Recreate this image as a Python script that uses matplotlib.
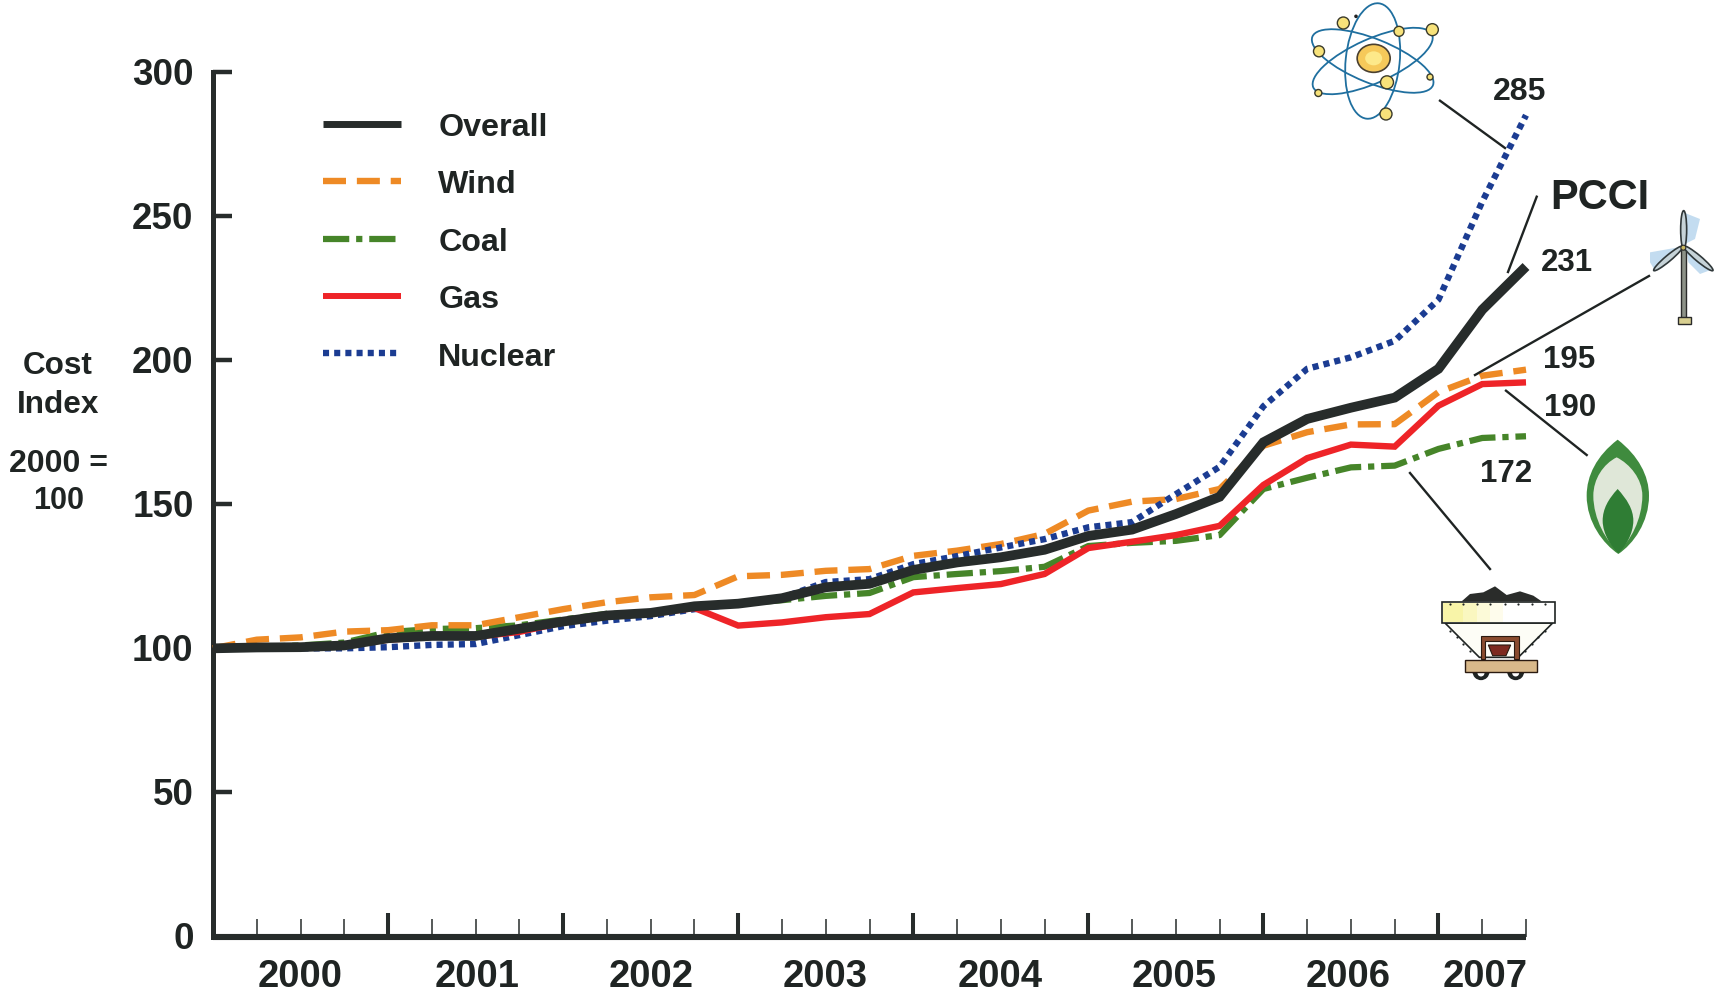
import matplotlib
matplotlib.use('Agg')
import matplotlib.pyplot as plt
from matplotlib.patches import Ellipse, PathPatch, Polygon, Circle, Rectangle
from matplotlib.path import Path
from matplotlib.transforms import ScaledTranslation

plt.rcParams['font.family'] = ['Liberation Sans', 'DejaVu Sans']
plt.rcParams['font.weight'] = 'bold'

TEXT = '#1f2423'

# one point per quarter, 2000 Q1 to 2007 Q3
quarters = list(range(31))
overall = [100, 100.3, 100.4, 101, 103.5, 104.3, 104.3, 106.8, 109.3, 111.4, 112.3, 114.6, 115.5, 117.4, 121.2, 122.4,
           127.2, 129.8, 131.6, 134.2, 139, 141.2, 146.6, 152.6, 171.5, 179.6, 183.5, 187, 197, 217.5, 232.5]
wind = [100, 103, 103.8, 105.8, 106.3, 108, 108, 110.8, 113.6, 116, 117.7, 118.5, 125, 125.5, 126.9, 127.5,
        132.1, 133.9, 136.2, 139.7, 147.8, 150.9, 151.8, 155.3, 170.3, 175, 177.7, 177.8, 188.9, 194.6, 196.7]
coal = [100, 100.5, 101, 102, 105.6, 106.7, 107, 108, 110, 112, 112, 114.5, 115.5, 116.7, 118.2, 119.2,
        124.7, 125.8, 126.8, 128.3, 135.5, 136.6, 137.3, 139.3, 155.3, 159.2, 162.8, 163.4, 169.2, 173, 173.6]
gas = [100, 100.2, 100.5, 101, 103, 104, 104, 105.7, 109, 111.3, 112, 114, 107.9, 109, 110.8, 111.9,
       119.4, 120.9, 122.3, 125.8, 134.8, 137, 139.3, 142.5, 156.7, 166, 170.7, 170, 184.2, 191.7, 192.3]
nuclear = [100, 100, 100, 100, 100.4, 101.2, 101.5, 104.6, 107.7, 109.6, 111.2, 113.6, 115.5, 117.5, 123, 124,
           129.2, 132, 135, 137.9, 142, 143.8, 153.5, 163, 184, 197, 201, 206.7, 221, 255, 285]

year_labels = ['2000', '2001', '2002', '2003', '2004', '2005', '2006', '2007']
year_centers = [1.98, 6.04, 10, 13.99, 17.99, 21.97, 25.94, 29.07]
year_ticks = [4, 8, 12, 16, 20, 24, 28]
quarter_ticks = [q for q in quarters[1:] if q % 4 != 0]
y_ticks = [0, 50, 100, 150, 200, 250, 300]

fig = plt.figure(figsize=(17.14, 9.95), dpi=100, facecolor='white')
ax = fig.add_axes([213 / 1714, (995 - 937.5) / 995, (1526 - 213) / 1714, (937.5 - 73) / 995])

# drawn back to front, black line on top
ax.plot(quarters, coal, color='#468529', lw=4.5, ls=(0, (4.2, 1.1, 1, 1.1)), clip_on=False, label='Coal', zorder=3)
ax.plot(quarters, wind, color='#ee8a25', lw=4.6, ls=(0, (3.6, 1.7)), clip_on=False, label='Wind', zorder=4)
ax.plot(quarters, nuclear, color='#1b3c92', lw=4.6, ls=(0, (0.95, 0.8)), clip_on=False, label='Nuclear', zorder=5)
ax.plot(quarters, gas, color='#ee2428', lw=4.6, solid_joinstyle='miter', solid_capstyle='butt', clip_on=False,
        label='Gas', zorder=6)
ax.plot(quarters, overall, color='#272c2b', lw=7, solid_joinstyle='miter', solid_capstyle='butt', clip_on=False,
        label='Overall', zorder=7)

ax.set_xlim(0, 30)
ax.set_ylim(0, 300)
ax.set_xticks(year_ticks)
ax.set_xticks(quarter_ticks, minor=True)
ax.set_xticklabels([])
ax.set_yticks(y_ticks)
ax.spines['top'].set_visible(False)
ax.spines['right'].set_visible(False)
ax.spines['left'].set_linewidth(3.6)
ax.spines['bottom'].set_linewidth(4.4)
ax.spines['left'].set_color('#272c2b')
ax.spines['bottom'].set_color('#272c2b')
ax.spines['bottom'].set_capstyle('butt')
ax.tick_params(axis='y', direction='in', length=14, width=3.2, color='#272c2b', pad=14, labelsize=26.5,
               labelcolor=TEXT)
ax.tick_params(axis='x', which='major', direction='in', length=17, width=2.9, color='#272c2b')
ax.tick_params(axis='x', which='minor', direction='in', length=13, width=1.1, color='#272c2b')

# the y labels sit slightly above their ticks in the reference
for label in ax.get_yticklabels():
    label.set_transform(label.get_transform() + ScaledTranslation(0, 1.5 / 100, fig.dpi_scale_trans))

for label, center in zip(year_labels, year_centers):
    ax.text(center, -0.0462, label, transform=ax.get_xaxis_transform(), ha='center', va='center', fontsize=27.5,
            color=TEXT)

# legend keeps the reference order
handles, labels = ax.get_legend_handles_labels()
order = ['Overall', 'Wind', 'Coal', 'Gas', 'Nuclear']
by_name = dict(zip(labels, handles))
legend = ax.legend([by_name[n] for n in order], order, loc='upper left', bbox_to_anchor=(323 / 1714, (995 - 113) / 995),
                   bbox_transform=fig.transFigure, frameon=False, fontsize=23.2, handlelength=2.42, handletextpad=1.16,
                   labelspacing=0.85, borderpad=0, borderaxespad=0, labelcolor=TEXT)
legend.get_lines()[0].set_linewidth(5)
legend.get_lines()[3].set_linewidth(4.3)


# overlay in reference pixels for the notes and the clip art
art = fig.add_axes([0, 0, 1, 1], zorder=10)
art.set_xlim(0, 1714)
art.set_ylim(995, 0)
art.axis('off')

notes = [('Cost', 58, 366, 22.7), ('Index', 58, 405, 22.7), ('2000 =', 59, 464, 23), ('100', 59, 501, 22),
         ('285', 1520, 92, 23), ('231', 1567, 263, 22.5), ('195', 1569, 360, 22.5), ('190', 1570, 408, 22.5),
         ('172', 1506, 474, 22.5), ('PCCI', 1600, 198, 30)]
for text, x, y, size in notes:
    art.text(x, y, text, ha='center', va='center', fontsize=size, color=TEXT)

leaders = [((1440, 101.7), (1505, 149)), ((1536.7, 197.7), (1508, 273)), ((1649, 277), (1475, 376)),
           ((1506, 391.7), (1586.7, 456)), ((1410, 474), (1490, 570))]
for start, end in leaders:
    art.plot([start[0], end[0]], [start[1], end[1]], color='#1f2423', lw=1.7)


def top(x, y):
    # coordinates
    return 1250 + x / 3, y / 3


def low(x, y):
    # coordinates
    return 1250 + x / 3, 350 + y / 3


def bezier(points, **kw):
    codes = [Path.MOVETO] + [Path.CURVE4] * (len(points) - 1)
    art.add_patch(PathPatch(Path(points, codes), **kw))


# atom
center = top(368, 186)
for width, height, angle in [(130, 44, 22), (130, 44, -24), (116, 54, -84)]:
    art.add_patch(Ellipse(center, width, height, angle=angle, fill=False, ec='#1f6f9f', lw=1.3))
art.add_patch(Ellipse(top(371, 178), 33, 28, fc='#f6c95a', ec='#4a4030', lw=1.2))
art.add_patch(Ellipse(top(371, 178), 17, 14, fc='#fde98a', ec='none'))
electrons = [(280, 72, 6), (547, 92, 6), (447, 97, 5), (207, 157, 5.5), (411, 250, 6.5), (540, 234, 3),
             (205, 282, 3.5), (408, 345, 6)]
for x, y, r in electrons:
    art.add_patch(Circle(top(x, y), r, fc='#f7e27a', ec='#3a3a2a', lw=1))
art.add_patch(Circle(top(318, 52), 1.8, fc='#222222', ec='none'))

# wind turbine
glows = [[(1300, 640), (1350, 660), (1335, 720), (1305, 735)], [(1200, 760), (1285, 745), (1215, 815), (1200, 790)],
         [(1310, 755), (1390, 810), (1350, 825), (1315, 790)]]
for glow in glows:
    art.add_patch(Polygon([top(x, y) for x, y in glow], fc='#9cc6e6', ec='none', alpha=0.6))
art.add_patch(Rectangle(top(1293, 750), 5, 70, fc='#8d9288', ec='#2a2a2a', lw=1))
art.add_patch(Ellipse(top(1301, 692), 6, 38, fc='#c6d3d8', ec='#30383a', lw=1.2))
art.add_patch(Ellipse(top(1255, 778), 6, 38, angle=50, fc='#c6d3d8', ec='#30383a', lw=1.2))
art.add_patch(Ellipse(top(1345, 778), 6, 38, angle=-50, fc='#c6d3d8', ec='#30383a', lw=1.2))
art.add_patch(Circle(top(1300, 746), 2.5, fc='#c8b860', ec='#2a2a2a', lw=0.8))
art.add_patch(Rectangle(top(1283, 955), 13, 7, fc='#d8cf90', ec='#2a2a2a', lw=1))

# gas flame
bezier([low(1103, 272), low(1040, 320), low(1010, 380), low(1010, 440), low(1010, 520), low(1060, 585), low(1105, 615),
        low(1150, 585), low(1197, 520), low(1197, 440), low(1197, 380), low(1165, 320), low(1103, 272)],
       fc='#3f8b3e', ec='none')
bezier([low(1100, 325), low(1060, 345), low(1030, 390), low(1030, 440), low(1030, 510), low(1070, 580), low(1105, 605),
        low(1140, 580), low(1177, 510), low(1177, 440), low(1177, 390), low(1140, 345), low(1100, 325)],
       fc='#dfe7d8', ec='none')
bezier([low(1103, 420), low(1075, 450), low(1058, 480), low(1058, 515), low(1058, 555), low(1085, 595), low(1105, 612),
        low(1125, 595), low(1150, 555), low(1150, 515), low(1150, 480), low(1130, 450), low(1103, 420)],
       fc='#2f7d34', ec='none')

# coal car
for x in (693, 797):
    art.add_patch(Circle(low(x, 968), 8.5, fc='#1f2423', ec='none'))
    art.add_patch(Circle(low(x, 972), 3.5, fc='white', ec='none'))
heap = [(635, 757), (660, 735), (700, 730), (735, 712), (770, 738), (810, 727), (850, 740), (875, 757)]
art.add_patch(Polygon([low(x, y) for x, y in heap], fc='#2a2c2a', ec='none'))
art.add_patch(Polygon([low(x, y) for x, y in [(585, 822), (908, 822), (805, 925), (688, 925)]], fc='#fdfdf6',
                      ec='#1f2423', lw=1.2))
art.add_patch(Polygon([low(x, y) for x, y in [(577, 758), (915, 758), (915, 822), (577, 822)]], fc='white',
                      ec='#1f2423', lw=1.2))
# yellow fades out to the right along the top band
for x0, x1, shade in [(580, 640, '#f8f4a8'), (640, 680, '#faf7c0'), (680, 720, '#fcfad8'), (720, 760, '#fefcec')]:
    art.add_patch(Polygon([low(x, y) for x, y in [(x0, 761), (x1, 761), (x1, 819), (x0, 819)]], fc=shade, ec='none'))
rivets = [(600, 765), (640, 765), (680, 765), (720, 765), (765, 765), (805, 765), (845, 765), (885, 765), (600, 845),
          (620, 865), (640, 885), (660, 905), (885, 845), (865, 865), (845, 885), (825, 905)]
art.scatter([low(x, y)[0] for x, y in rivets], [low(x, y)[1] for x, y in rivets], s=2.5, color='#1f2423', lw=0)
art.add_patch(Polygon([low(x, y) for x, y in [(692, 862), (806, 862), (806, 930), (792, 930), (792, 875), (706, 875),
                                              (706, 930), (692, 930)]], fc='#8a4b2e', ec='#2a1a10', lw=0.8))
art.add_patch(Polygon([low(x, y) for x, y in [(715, 888), (782, 888), (768, 920), (728, 920)]], fc='#7d2a20',
                      ec='#2a1a10', lw=0.8))
art.add_patch(Rectangle(low(645, 932), 72, 12, fc='#d9b98a', ec='#2a1a10', lw=1))

fig.savefig('out.png', dpi=100)
